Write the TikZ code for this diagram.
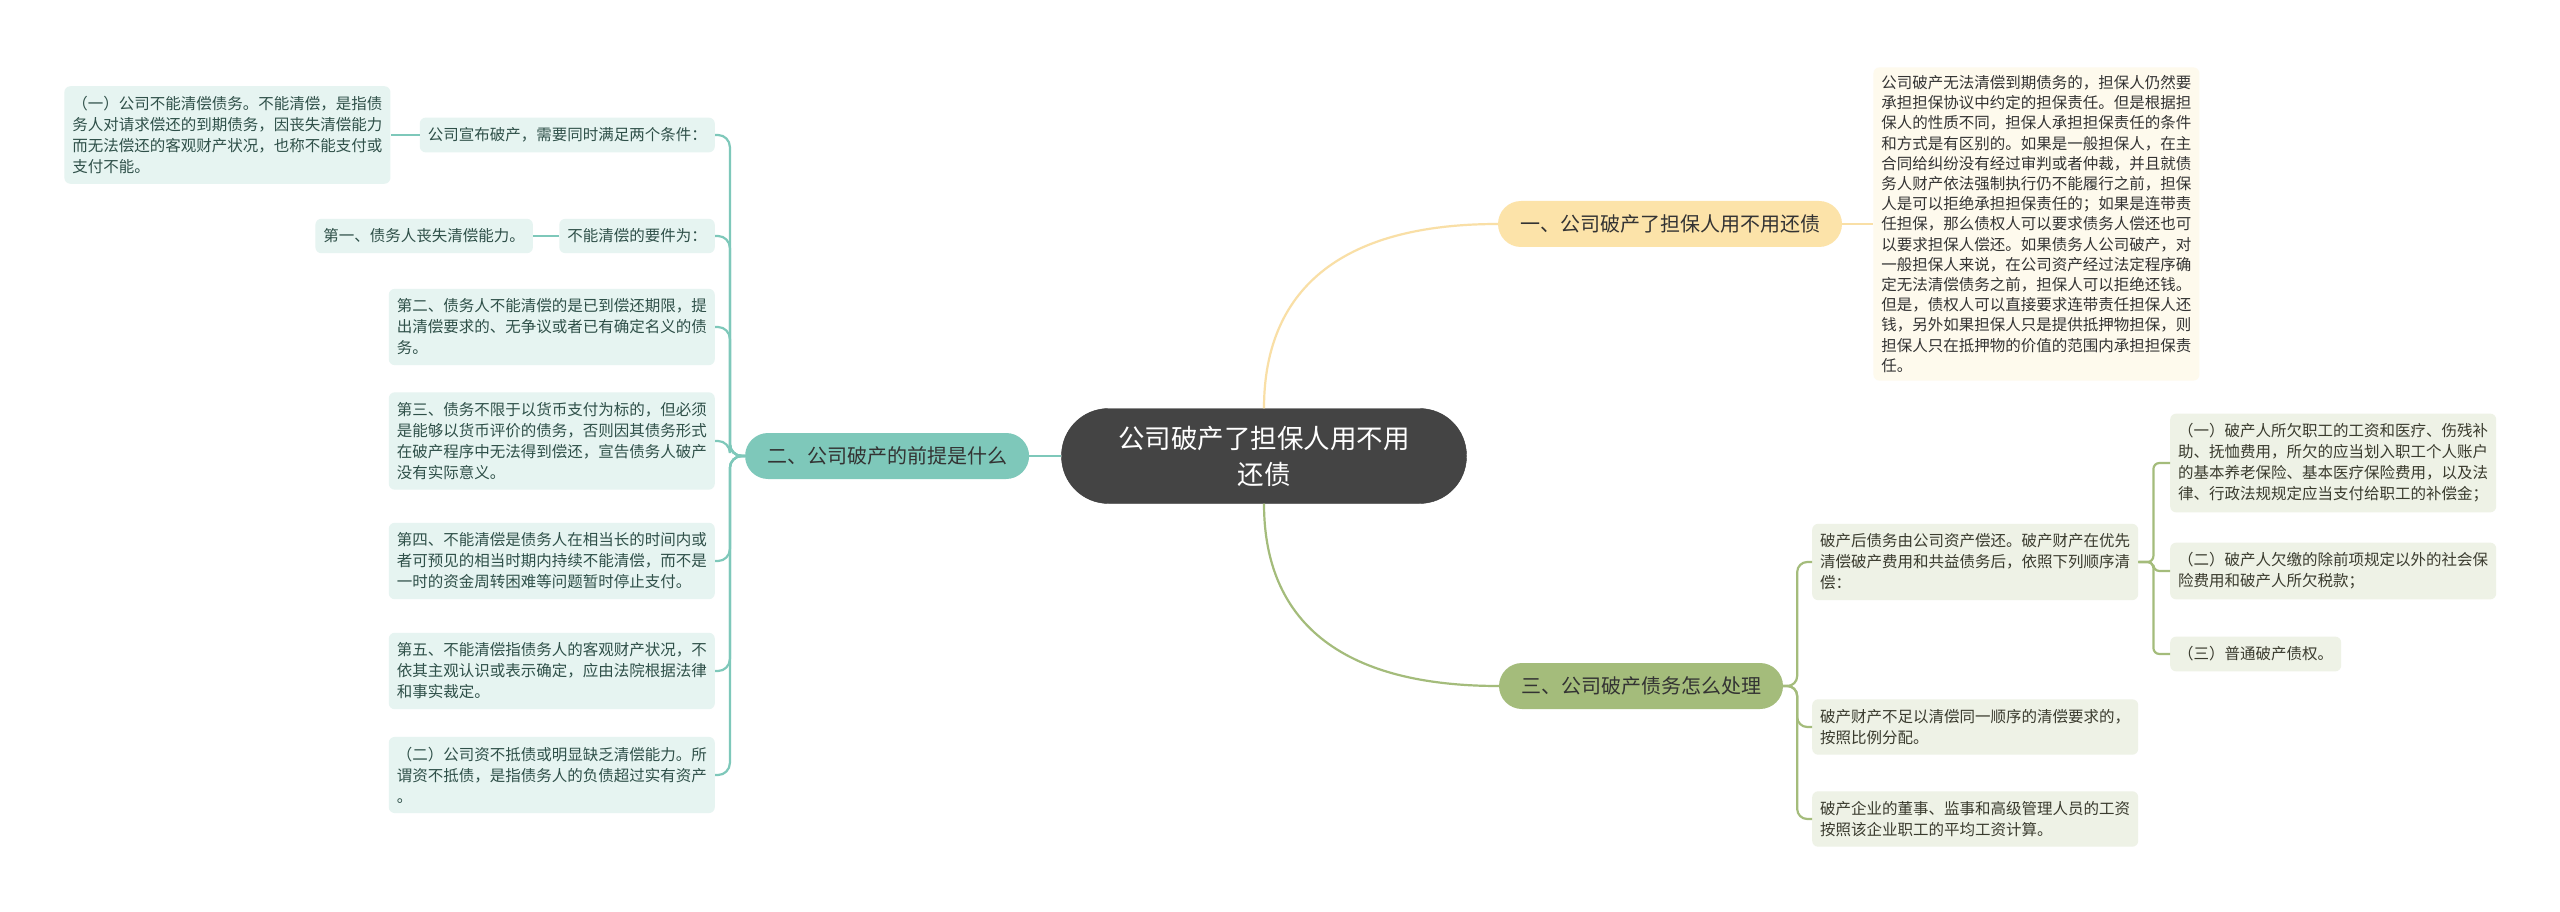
\documentclass[tikz,border=0pt]{standalone}
\usepackage{fontspec}
\setmainfont{Noto Sans CJK SC}
\usepackage{tikz}
\usetikzlibrary{positioning}
\definecolor{rootgray}{HTML}{444444}
\definecolor{pilltext}{HTML}{333333}
\definecolor{amberfill}{HTML}{FCE3A9}
\definecolor{amberline}{HTML}{F9DFA6}
\definecolor{amberleaf}{HTML}{FEFAED}
\definecolor{mmteal}{HTML}{7EC8BA}
\definecolor{tealleaf}{HTML}{E6F4F1}
\definecolor{tealtext}{HTML}{2F5049}
\definecolor{mmolive}{HTML}{A4BC7B}
\definecolor{oliveleaf}{HTML}{EEF2E6}
\definecolor{olivetext}{HTML}{3A3B2E}

\begin{document}
\begin{tikzpicture}[
    x=1pt, y=-1pt,
    rootnode/.style={rectangle, fill=rootgray, draw=rootgray!85!black, rounded corners=47pt, minimum width=405pt, minimum height=95pt, align=center, text=white, font=\fontsize{26.5}{36}\selectfont},
    pill/.style={rectangle, fill=#1, rounded corners=23pt, minimum height=46pt, inner xsep=22pt, text=pilltext, font=\fontsize{20}{24}\selectfont},
    leaf/.style={rectangle, rounded corners=6pt, align=left, inner xsep=8pt, inner ysep=10pt, font=\fontsize{15.5}{21}\selectfont},
    aleaf/.style={leaf, fill=amberleaf, text=pilltext},
    tleaf/.style={leaf, fill=tealleaf, text=tealtext},
    oleaf/.style={leaf, fill=oliveleaf, text=olivetext},
    link/.style={draw=#1, line width=2.2pt},
]
\fill[white] (0,0) rectangle (2560,912);
\useasboundingbox (0,0) rectangle (2560,912);

% Root
\node[rootnode] (root) at (1264,456) {公司破产了担保人用不用\\还债};

% Branches
\node[pill=amberfill] (b1) at (1670,224) {一、公司破产了担保人用不用还债};
\node[pill=mmteal, left=32pt of root] (b2) {二、公司破产的前提是什么};
\node[pill=mmolive] (b3) at (1641,686) {三、公司破产债务怎么处理};

% Branch 1
\node[aleaf, right=31pt of b1, inner ysep=8pt, font=\fontsize{15.5}{20.2}\selectfont] (a1) {公司破产无法清偿到期债务的，担保人仍然要\\承担担保协议中约定的担保责任。但是根据担\\保人的性质不同，担保人承担担保责任的条件\\和方式是有区别的。如果是一般担保人，在主\\合同给纠纷没有经过审判或者仲裁，并且就债\\务人财产依法强制执行仍不能履行之前，担保\\人是可以拒绝承担担保责任的；如果是连带责\\任担保，那么债权人可以要求债务人偿还也可\\以要求担保人偿还。如果债务人公司破产，对\\一般担保人来说，在公司资产经过法定程序确\\定无法清偿债务之前，担保人可以拒绝还钱。\\但是，债权人可以直接要求连带责任担保人还\\钱，另外如果担保人只是提供抵押物担保，则\\担保人只在抵押物的价值的范围内承担担保责\\任。};

% Branch 2
\node[tleaf, anchor=east] (t1) at (715,135) {公司宣布破产，需要同时满足两个条件：};
\node[tleaf, left=29pt of t1] (t1a) {（一）公司不能清偿债务。不能清偿，是指债\\务人对请求偿还的到期债务，因丧失清偿能力\\而无法偿还的客观财产状况，也称不能支付或\\支付不能。};
\node[tleaf, anchor=east] (t2) at (715,236) {不能清偿的要件为：};
\node[tleaf, left=26pt of t2] (t2a) {第一、债务人丧失清偿能力。};
\node[tleaf, anchor=east] (t3) at (715,327) {第二、债务人不能清偿的是已到偿还期限，提\\出清偿要求的、无争议或者已有确定名义的债\\务。};
\node[tleaf, anchor=east] (t4) at (715,441) {第三、债务不限于以货币支付为标的，但必须\\是能够以货币评价的债务，否则因其债务形式\\在破产程序中无法得到偿还，宣告债务人破产\\没有实际意义。};
\node[tleaf, anchor=east] (t5) at (715,561) {第四、不能清偿是债务人在相当长的时间内或\\者可预见的相当时期内持续不能清偿，而不是\\一时的资金周转困难等问题暂时停止支付。};
\node[tleaf, anchor=east] (t6) at (715,671) {第五、不能清偿指债务人的客观财产状况，不\\依其主观认识或表示确定，应由法院根据法律\\和事实裁定。};
\node[tleaf, anchor=east] (t7) at (715,775) {（二）公司资不抵债或明显缺乏清偿能力。所\\谓资不抵债，是指债务人的负债超过实有资产\\。};

% Branch 3
\node[oleaf, anchor=west] (o1) at (1812,562) {破产后债务由公司资产偿还。破产财产在优先\\清偿破产费用和共益债务后，依照下列顺序清\\偿：};
\node[oleaf, anchor=west] (o1a) at (2170,463) {（一）破产人所欠职工的工资和医疗、伤残补\\助、抚恤费用，所欠的应当划入职工个人账户\\的基本养老保险、基本医疗保险费用，以及法\\律、行政法规规定应当支付给职工的补偿金；};
\node[oleaf, anchor=west] (o1b) at (2170,571) {（二）破产人欠缴的除前项规定以外的社会保\\险费用和破产人所欠税款；};
\node[oleaf, anchor=west] (o1c) at (2170,654) {（三）普通破产债权。};
\node[oleaf, anchor=west] (o2) at (1812,727) {破产财产不足以清偿同一顺序的清偿要求的，\\按照比例分配。};
\node[oleaf, anchor=west] (o3) at (1812,819) {破产企业的董事、监事和高级管理人员的工资\\按照该企业职工的平均工资计算。};

% Links
\draw[link=amberline] (root.north) .. controls +(0,-108) and +(-170,0) .. (b1.west);
\draw[link=amberline] (b1.east) -- (a1.west);
\draw[link=mmteal] (root.west) -- (b2.east);
\draw[link=mmolive] (root.south) .. controls +(0,108) and +(-170,0) .. (b3.west);

\foreach \c in {t1,t2,t3,t4,t5,t6,t7}
    \draw[link=mmteal, rounded corners=12pt] (b2.west) -- ++(-15,0) |- (\c.east);
\draw[link=mmteal] (t1.west) -- (t1a.east);
\draw[link=mmteal] (t2.west) -- (t2a.east);

\foreach \c in {o1,o2,o3}
    \draw[link=mmolive, rounded corners=10pt] (b3.east) -- ++(14,0) |- (\c.west);
\foreach \c in {o1a,o1b,o1c}
    \draw[link=mmolive, rounded corners=6pt] (o1.east) -- ++(15,0) |- (\c.west);
\end{tikzpicture}
\end{document}
